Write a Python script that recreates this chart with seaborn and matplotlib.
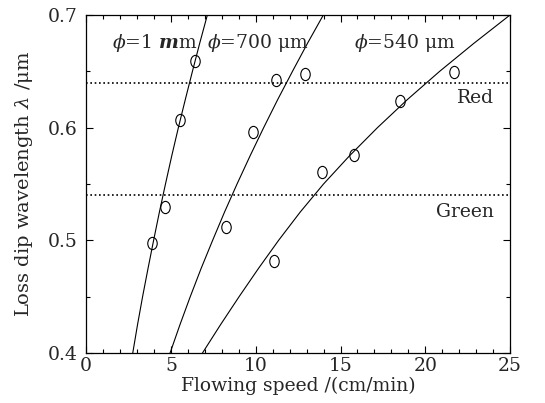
import numpy as np
import pandas as pd
import matplotlib
matplotlib.use("Agg")
import matplotlib.pyplot as plt
from matplotlib.markers import MarkerStyle
from matplotlib.transforms import Affine2D
import seaborn as sns

# measured points (flowing speed cm/min, loss dip wavelength um)
speed_1mm = [3.87, 4.66, 5.54, 6.43]
wave_1mm = [0.498, 0.530, 0.607, 0.659]
speed_700 = [8.24, 9.83, 11.22, 12.91]
wave_700 = [0.512, 0.596, 0.642, 0.648]
speed_540 = [11.07, 13.90, 15.80, 18.51, 21.72]
wave_540 = [0.482, 0.561, 0.576, 0.624, 0.649]

# fitted curves
fit_wave = [0.400, 0.425, 0.450, 0.475, 0.500, 0.525, 0.550,
            0.575, 0.600, 0.625, 0.650, 0.675, 0.700]
fit_speed_1mm = [2.75, 3.03, 3.33, 3.65, 3.98, 4.32, 4.68,
                 5.05, 5.44, 5.85, 6.27, 6.70, 7.15]
fit_speed_700 = [4.95, 5.53, 6.14, 6.78, 7.46, 8.16, 8.90,
                 9.67, 10.47, 11.30, 12.17, 13.06, 13.99]
fit_speed_540 = [6.86, 7.92, 9.02, 10.16, 11.35, 12.62, 14.00,
                 15.53, 17.18, 18.95, 20.85, 22.88, 25.00]

# colour reference lines
ref_names = ["Red", "Green"]
ref_waves = [0.64, 0.54]

labels = [r"$\phi$=1 $\mathbfit{m}$m", r"$\phi$=700 μm", r"$\phi$=540 μm"]
label_x = [4.05, 10.15, 18.8]


def main():
    sns.set_theme(style="ticks")
    plt.rcParams["font.family"] = ["DejaVu Serif"]
    plt.rcParams["mathtext.fontset"] = "dejavuserif"

    fig = plt.figure(figsize=(5.45, 4.03), dpi=100)
    ax = fig.add_axes([0.158, 0.124, 0.778, 0.839])

    pts = pd.concat([
        pd.DataFrame({"speed": speed_1mm, "wave": wave_1mm, "d": "1mm"}),
        pd.DataFrame({"speed": speed_700, "wave": wave_700, "d": "700"}),
        pd.DataFrame({"speed": speed_540, "wave": wave_540, "d": "540"}),
    ])
    fits = pd.concat([
        pd.DataFrame({"speed": fit_speed_1mm, "wave": fit_wave, "d": "1mm"}),
        pd.DataFrame({"speed": fit_speed_700, "wave": fit_wave, "d": "700"}),
        pd.DataFrame({"speed": fit_speed_540, "wave": fit_wave, "d": "540"}),
    ])

    for name, wave in zip(ref_names, ref_waves):
        ax.axhline(wave, color="black", linestyle=(0, (1, 1.6)), linewidth=1.2, zorder=1)

    sns.lineplot(data=fits, x="speed", y="wave", units="d", estimator=None,
                 sort=False, color="black", linewidth=0.8, ax=ax, legend=False)

    ell = MarkerStyle("o", fillstyle="none", transform=Affine2D().scale(0.85, 1.1))
    ax.plot(pts["speed"], pts["wave"], linestyle="none", marker=ell,
            markersize=8, markeredgecolor="black", markeredgewidth=0.8,
            markerfacecolor="white", zorder=3)

    ax.set_xlim(0, 25)
    ax.set_ylim(0.4, 0.7)
    ax.set_xticks([0, 5, 10, 15, 20, 25])
    ax.set_xticks(np.arange(0, 26, 1), minor=True)
    ax.set_yticks([0.4, 0.5, 0.6, 0.7])
    ax.set_yticklabels(["0.4", "0.5", "0.6", "0.7"])
    ax.set_yticks([0.45, 0.55, 0.65], minor=True)
    ax.tick_params(which="both", direction="in", top=True, right=True,
                   labelsize=13.5, width=0.8, color="black", pad=3)
    ax.tick_params(axis="y", pad=6)
    ax.tick_params(which="major", length=5)
    ax.tick_params(which="minor", length=3)
    for s in ax.spines.values():
        s.set_linewidth(0.9)
        s.set_color("black")

    ax.set_xlabel("Flowing speed /(cm/min)", fontsize=13.5, labelpad=1)
    ax.set_ylabel(r"Loss dip wavelength $\lambda$ /μm", fontsize=14, labelpad=9)

    for txt, x in zip(labels, label_x):
        ax.text(x, 0.675, txt, fontsize=13.5, ha="center", va="center")
    ax.text(24.05, 0.626, "Red", fontsize=13.5, ha="right", va="center")
    ax.text(24.05, 0.525, "Green", fontsize=13.5, ha="right", va="center")

    fig.savefig("out.png", dpi=100)
    plt.close(fig)


if __name__ == "__main__":
    main()
